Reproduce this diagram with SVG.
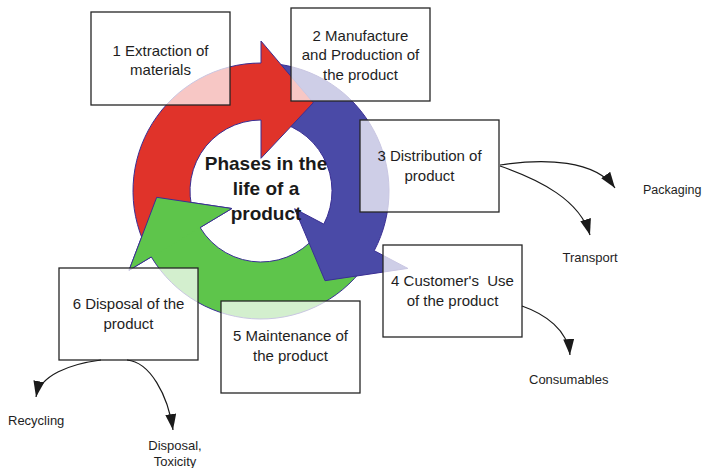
<svg xmlns="http://www.w3.org/2000/svg" width="704" height="468" viewBox="0 0 704 468">
<style>
.box{fill:#fff;fill-opacity:0.73;stroke:#262626;stroke-width:1.3}
.t{font-family:"Liberation Sans",Arial,sans-serif;font-size:15px;fill:#1e1e1e;text-anchor:middle}
.lbl{font-family:"Liberation Sans",Arial,sans-serif;font-size:13px;fill:#1e1e1e}
.title{font-family:"Liberation Sans",Arial,sans-serif;font-size:19px;font-weight:bold;fill:#1a1a1a;text-anchor:middle}
.conn{fill:none;stroke:#1a1a1a;stroke-width:1.2}
.ar{stroke:#3a2f94;stroke-width:1;stroke-linejoin:miter}
</style>
<defs>
<marker id="ah" markerUnits="userSpaceOnUse" markerWidth="17" markerHeight="11" refX="16" refY="5.5" orient="auto">
<path d="M0,0 L16,5.5 L0,11 Z" fill="#1a1a1a"/>
</marker>
</defs>
<g id="cycle">
<path class="ar" fill="#5EC54B" d="M369.55,258.83 A128,128 0 0 1 151.28,256.93 L129.0,270.32 L156.7,197.3 L231.86,208.51 L200.14,227.57 A71,71 0 0 0 321.21,228.62 Z"/>
<path class="ar" fill="#4A4AA7" d="M272.16,63.49 A128,128 0 0 1 374.23,250.70 L407.84,268.42 L325,280.7 L294.61,208.72 L323.81,224.11 A71,71 0 0 0 267.19,120.27 Z"/>
<path class="ar" fill="#E0332A" d="M145.95,247.11 A128,128 0 0 1 261,63 L261,41 L313.3,102.7 L261,158.3 L261,120 A71,71 0 0 0 197.19,222.12 Z"/>
<path fill="#5EC54B" d="M129.0,270.32 L156.7,197.3 L231.86,208.51 Z"/>
<polyline class="ar" fill="none" points="151.28,256.93 129.0,270.32 156.7,197.3 231.86,208.51 200.14,227.57"/>
</g>
<g id="title">
<text class="title" x="266" y="170">Phases in the</text>
<text class="title" x="266" y="195">life of a</text>
<text class="title" x="266" y="220">product</text>
</g>
<g id="node1">
<rect class="box" x="91" y="12" width="139" height="93"/>
<text class="t" x="160.5" y="55.5">1 Extraction of</text>
<text class="t" x="160.5" y="74.5">materials</text>
</g>
<g id="node2">
<rect class="box" x="291" y="8" width="139" height="93"/>
<text class="t" x="360.5" y="40.5">2 Manufacture</text>
<text class="t" x="360.5" y="60">and Production of</text>
<text class="t" x="360.5" y="79.5">the product</text>
</g>
<g id="node3">
<rect class="box" x="360" y="120" width="139" height="92"/>
<text class="t" x="429.5" y="161">3 Distribution of</text>
<text class="t" x="429.5" y="180.5">product</text>
</g>
<g id="node4">
<rect class="box" x="383" y="245" width="139" height="92"/>
<text class="t" x="452.5" y="286" xml:space="preserve">4 Customer's  Use</text>
<text class="t" x="452.5" y="305.5">of the product</text>
</g>
<g id="node5">
<rect class="box" x="221" y="301" width="139" height="92"/>
<text class="t" x="290.5" y="341">5 Maintenance of</text>
<text class="t" x="290.5" y="360.5">the product</text>
</g>
<g id="node6">
<rect class="box" x="59" y="268" width="139" height="92"/>
<text class="t" x="128.5" y="309">6 Disposal of the</text>
<text class="t" x="128.5" y="328.5">product</text>
</g>
<g id="connectors">
<path class="conn" marker-end="url(#ah)" d="M500,165 C545,158 595,160 615,188"/>
<path class="conn" marker-end="url(#ah)" d="M500,166 C540,180 580,200 590,235"/>
<path class="conn" marker-end="url(#ah)" d="M522,306 C545,314 568,330 570,355"/>
<path class="conn" marker-end="url(#ah)" d="M101,360 C70,364 40,375 36,397"/>
<path class="conn" marker-end="url(#ah)" d="M127,360 C150,362 168,395 173,430"/>
</g>
<g id="label-packaging"><text class="lbl" x="643" y="193.5" style="font-size:12.5px">Packaging</text></g>
<g id="label-transport"><text class="lbl" x="562.5" y="262">Transport</text></g>
<g id="label-consumables"><text class="lbl" x="529" y="383.5">Consumables</text></g>
<g id="label-recycling"><text class="lbl" x="8" y="424.5">Recycling</text></g>
<g id="label-disposal">
<text class="lbl" x="175" y="450" text-anchor="middle">Disposal,</text>
<text class="lbl" x="175" y="466" text-anchor="middle">Toxicity</text>
</g>
</svg>
